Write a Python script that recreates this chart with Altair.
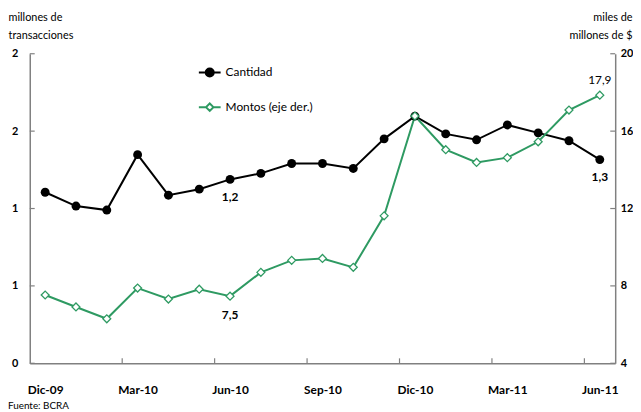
import altair as alt
import pandas as pd

# ---- data ----
months = ["Dic-09", "Ene-10", "Feb-10", "Mar-10", "Abr-10", "May-10", "Jun-10",
          "Jul-10", "Ago-10", "Sep-10", "Oct-10", "Nov-10", "Dic-10", "Ene-11",
          "Feb-11", "Mar-11", "Abr-11", "May-11", "Jun-11"]
cantidad = [1.105, 1.016, 0.990, 1.348, 1.086, 1.125, 1.188, 1.227, 1.291, 1.291,
            1.259, 1.450, 1.597, 1.482, 1.444, 1.540, 1.489, 1.438, 1.316]
montos = [7.53, 6.91, 6.30, 7.89, 7.32, 7.83, 7.47, 8.70, 9.32, 9.42,
          8.96, 11.62, 16.78, 15.04, 14.38, 14.63, 15.45, 17.09, 17.86]
series_names = ["Cantidad", "Montos (eje der.)"]

x_label_idx = [0, 3, 6, 9, 12, 15, 18]
x_tick_pos = [2.5, 5.5, 8.5, 11.5, 14.5, 17.5]
left_ticks = [0, 0.5, 1, 1.5, 2]
right_ticks = [4, 8, 12, 16, 20]

cant_ann_idx = [6, 18]
cant_ann_text = ["1,2", "1,3"]
mont_ann_idx = [6, 18]
mont_ann_text = ["7,5", "17,9"]
mont_ann_pos = ["below", "above"]

# ---- style ----
W, H = 592, 313
GREEN = "#2e9a62"
AX = "#808080"
FONT = "Lato"

df = pd.DataFrame({"idx": list(range(len(months))), "mes": months,
                   "cantidad": cantidad, "montos": montos})
legend_df = pd.DataFrame({"serie": series_names, "idx": [0, 0], "v": [1, 1]})
xt_df = pd.DataFrame({"idx": x_tick_pos})
lt_df = pd.DataFrame({"v": left_ticks})
rt_df = pd.DataFrame({"v": right_ticks})
cant_ann = pd.DataFrame({"idx": cant_ann_idx,
                         "val": [cantidad[i] for i in cant_ann_idx],
                         "txt": cant_ann_text})
mont_ann = pd.DataFrame({"idx": mont_ann_idx,
                         "val": [montos[i] for i in mont_ann_idx],
                         "txt": mont_ann_text, "pos": mont_ann_pos})


def xs():
    return alt.Scale(domain=[-0.5, 18.5], nice=False, zero=False)


def ls():
    return alt.Scale(domain=[0, 2], nice=False, zero=False)


def rs():
    return alt.Scale(domain=[4, 20], nice=False, zero=False)


label_expr = "[" + ",".join("'" + m + "'" for m in months) + "][datum.value]"


def x_axis():
    return alt.Axis(values=x_label_idx, labelExpr=label_expr, title=None, grid=False,
                    ticks=False, domainColor=AX, domainWidth=1.5,
                    labelFontWeight="bold", labelFontSize=12, labelPadding=22,
                    labelColor="black", labelFont=FONT)


def x_enc():
    return alt.X("idx:Q", scale=xs(), axis=x_axis())


left_axis = alt.Axis(values=left_ticks, format=".0f", orient="left",
                     title=["millones de", "transacciones"], titleAngle=0,
                     titleAlign="left", titleBaseline="top", titleX=-22, titleY=-43,
                     titleFontSize=11, titleFontWeight="normal", titleLineHeight=19,
                     titleFont=FONT, titleColor="black",
                     grid=False, ticks=False, labelPadding=12,
                     labelFontWeight="bold", labelFontSize=11, labelColor="black",
                     labelFont=FONT, domainColor=AX, domainWidth=1.5)
right_axis = alt.Axis(values=right_ticks, format="d", orient="right",
                      title=["miles de", "millones de $"], titleAngle=0,
                      titleAlign="right", titleBaseline="top", titleX=17, titleY=-43,
                      titleFontSize=11, titleFontWeight="normal", titleLineHeight=19,
                      titleFont=FONT, titleColor="black",
                      grid=False, ticks=False, labelPadding=5,
                      labelFontWeight="bold", labelFontSize=11, labelColor="black",
                      labelFont=FONT, domainColor=AX, domainWidth=1.5)

p_cant = "M-1,0H1M-0.37,0A0.37,0.37 0 1,0 0.37,0A0.37,0.37 0 1,0 -0.37,0Z"
p_mont = "M-1,0H-0.34M0.34,0H1M-0.34,0L0,-0.34L0.34,0L0,0.34Z"


def leg(y, sym, stroke):
    return alt.Legend(title=None, orient="none", legendX=170, legendY=y,
                      direction="vertical", symbolSize=484, symbolStrokeWidth=2,
                      symbolType=sym, symbolStrokeColor=stroke, symbolOpacity=1,
                      labelFontSize=12, labelFont=FONT, labelColor="black",
                      labelOffset=4, padding=0)


base = alt.Chart(df)

black_line = base.mark_line(color="black", strokeWidth=2).encode(
    x=x_enc(), y=alt.Y("cantidad:Q", scale=ls(), axis=left_axis))
green_line = base.mark_line(color=GREEN, strokeWidth=2).encode(
    x=x_enc(), y=alt.Y("montos:Q", scale=rs(), axis=right_axis))
black_pts = base.mark_point(shape="circle", filled=True, size=81, color="black",
                            opacity=1).encode(
    x=x_enc(), y=alt.Y("cantidad:Q", scale=ls(), axis=None))
green_pts = base.mark_point(shape="diamond", filled=True, size=64, fill="white",
                            stroke=GREEN, strokeWidth=1.3, opacity=1).encode(
    x=x_enc(), y=alt.Y("montos:Q", scale=rs(), axis=None))
black_txt = alt.Chart(cant_ann).mark_text(dy=18, fontWeight="bold", fontSize=12,
                                          font=FONT, color="black").encode(
    x=x_enc(), y=alt.Y("val:Q", scale=ls(), axis=None), text="txt:N")
green_txt_below = alt.Chart(mont_ann).transform_filter(
    alt.datum.pos == "below").mark_text(dy=19, fontWeight="bold", fontSize=12,
                                        font=FONT, color="black").encode(
    x=x_enc(), y=alt.Y("val:Q", scale=rs(), axis=None), text="txt:N")
green_txt_above = alt.Chart(mont_ann).transform_filter(
    alt.datum.pos == "above").mark_text(dy=-15, fontWeight="normal", fontSize=12,
                                        font=FONT, color="black").encode(
    x=x_enc(), y=alt.Y("val:Q", scale=rs(), axis=None), text="txt:N")
left_tick_rules = alt.Chart(lt_df).mark_rule(color=AX, strokeWidth=1.2).encode(
    y=alt.Y("v:Q", scale=ls(), axis=None), x=alt.value(0), x2=alt.value(5))
right_tick_rules = alt.Chart(rt_df).mark_rule(color=AX, strokeWidth=1.2).encode(
    y=alt.Y("v:Q", scale=rs(), axis=None), x=alt.value(W - 5), x2=alt.value(W))
x_tick_rules = alt.Chart(xt_df).mark_rule(color=AX, strokeWidth=1.2).encode(
    x=x_enc(), y=alt.value(H), y2=alt.value(H - 5))

# legend-only layers (no rows drawn; legend driven by explicit scale domains)
leg_cant = alt.Chart(legend_df).transform_filter("datum.idx < 0").mark_point(
    filled=True, opacity=1, size=484).encode(
    x=x_enc(), y=alt.Y("v:Q", scale=ls(), axis=None),
    fill=alt.Fill("serie:N", scale=alt.Scale(domain=series_names[:1], range=["black"]),
                  legend=leg(7, p_cant, "black")))
leg_mont = alt.Chart(legend_df).transform_filter("datum.idx < 0").mark_point(
    filled=True, opacity=1, size=484).encode(
    x=x_enc(), y=alt.Y("v:Q", scale=rs(), axis=None),
    color=alt.Color("serie:N", scale=alt.Scale(domain=series_names[1:], range=["white"]),
                    legend=leg(42, p_mont, GREEN)))

chart = alt.layer(
    black_line, green_line, black_pts, green_pts, black_txt, green_txt_below,
    green_txt_above, left_tick_rules, right_tick_rules, x_tick_rules,
    leg_cant, leg_mont
).resolve_scale(y="independent").resolve_axis(y="independent").properties(
    width=W, height=H,
    autosize=alt.AutoSizeParams(type="none"),
    padding={"left": 22, "top": 44, "right": 18, "bottom": 47},
    background="white",
    title=alt.TitleParams("Fuente: BCRA", orient="bottom", anchor="start",
                          frame="group", dx=-22, offset=5, fontSize=10,
                          fontWeight="normal", font=FONT, color="black"),
).configure_view(stroke=None)

chart.save("out.html", embed_options={"renderer": "svg", "actions": False})
